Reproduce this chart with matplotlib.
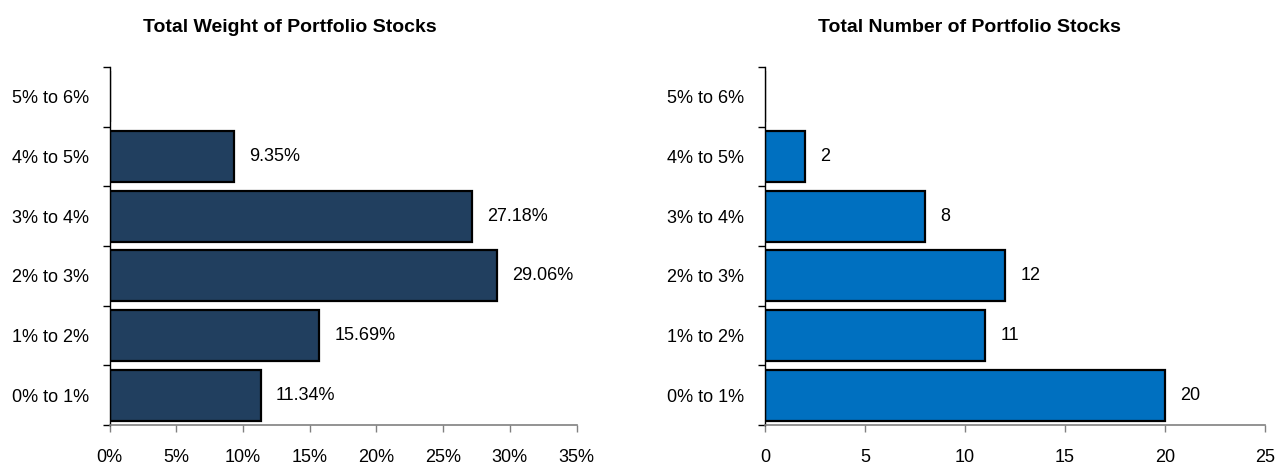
import matplotlib
matplotlib.use("Agg")
import matplotlib.pyplot as plt
import numpy as np

plt.rcParams['font.family'] = ['Liberation Sans', 'DejaVu Sans']

ranges = ["0% to 1%", "1% to 2%", "2% to 3%", "3% to 4%", "4% to 5%", "5% to 6%"]
weights = [11.34, 15.69, 29.06, 27.18, 9.35, 0.0]
counts = [20, 11, 12, 8, 2, 0]

weight_ticks = [0, 5, 10, 15, 20, 25, 30, 35]
count_ticks = [0, 5, 10, 15, 20, 25]


def DrawPanel(ax, values, color, ticks, tick_fmt, label_fmt):
    y = np.arange(len(ranges))
    ax.barh(y, values, height=0.85, color=color, edgecolor='black', linewidth=1.6)
    for yi, v in zip(y, values):
        if v > 0:
            ax.annotate(label_fmt(v), xy=(v, yi), xytext=(11, 0),
                        textcoords='offset points', va='center', ha='left',
                        fontsize=13)

    ax.set_xlim(ticks[0], ticks[-1])
    ax.set_ylim(-0.5, len(ranges) - 0.5)
    ax.set_xticks(ticks)
    ax.set_xticklabels([tick_fmt(t) for t in ticks], fontsize=13)

    # ticks sit between the categories, labels in the middle
    ax.set_yticks(np.arange(-0.5, len(ranges), 1.0))
    ax.set_yticklabels([])
    ax.set_yticks(y, minor=True)
    ax.set_yticklabels(ranges, minor=True, fontsize=13)
    ax.tick_params(axis='y', which='minor', length=0, pad=15)
    ax.tick_params(axis='y', which='major', length=5, width=1, direction='out')
    ax.tick_params(axis='x', length=5, width=1, color='#808080', pad=12)

    ax.spines['top'].set_visible(False)
    ax.spines['right'].set_visible(False)
    ax.spines['bottom'].set_color('#808080')
    ax.spines['bottom'].set_linewidth(1.2)
    ax.spines['left'].set_color('black')
    ax.spines['left'].set_linewidth(1)


fig = plt.figure(figsize=(12.75, 4.65), dpi=100)
ax1 = fig.add_axes([109.5 / 1275, 1 - 425 / 465, 467 / 1275, 358 / 465])
ax2 = fig.add_axes([765 / 1275, 1 - 425 / 465, 500 / 1275, 358 / 465])

DrawPanel(ax1, weights, '#213F5F', weight_ticks,
          lambda t: f"{t}%", lambda v: f"{v:.2f}%")
DrawPanel(ax2, counts, '#0070C0', count_ticks,
          lambda t: f"{t}", lambda v: f"{v}")

title_font = ['Liberation Sans Narrow', 'Liberation Sans', 'DejaVu Sans']
fig.text(290 / 1275, 1 - 27 / 465, "Total Weight of Portfolio Stocks",
         ha='center', va='center', fontsize=14, fontweight='bold', family=title_font)
fig.text(969 / 1275, 1 - 27 / 465, "Total Number of Portfolio Stocks",
         ha='center', va='center', fontsize=14, fontweight='bold', family=title_font)

fig.savefig("out.png", dpi=100)
